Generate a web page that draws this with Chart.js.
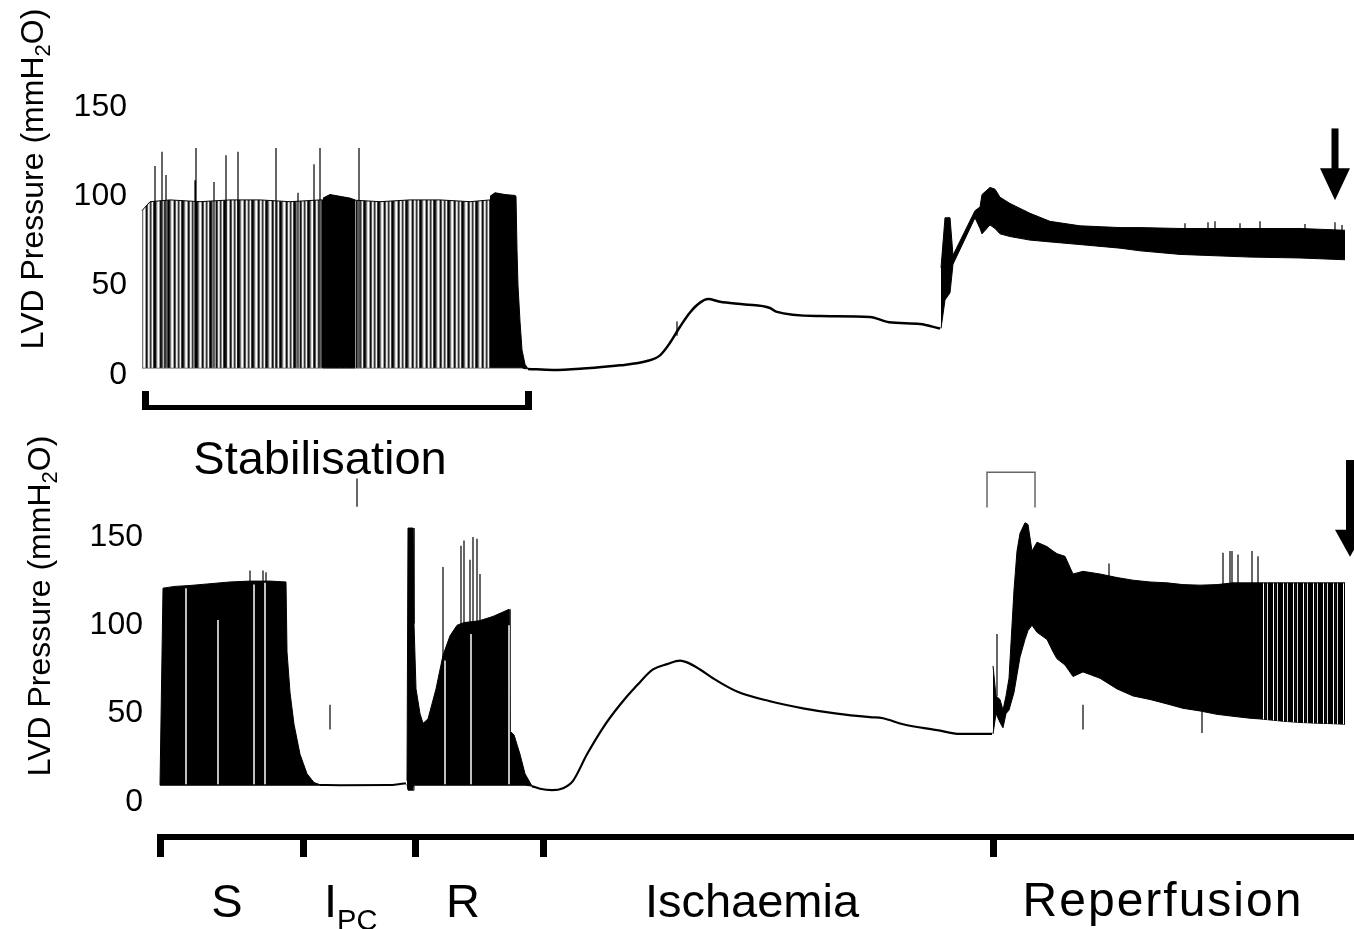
<!DOCTYPE html>
<html>
<head>
<meta charset="utf-8">
<script src="https://cdn.jsdelivr.net/npm/chart.js@4.4.0/dist/chart.umd.min.js"></script>
<style>
body{margin:0;background:#fff;width:1354px;height:929px;position:relative;overflow:hidden;font-family:"Liberation Sans",Arial,Helvetica,sans-serif;color:#000;}
canvas{position:absolute;left:0;}
#cTop{top:0;}
#cBot{top:440px;}
.lbl{position:absolute;white-space:nowrap;line-height:1;font-size:47px;transform:translate(-50%,-50%);}
.ytitle{position:absolute;white-space:nowrap;line-height:1;font-size:32px;transform:translate(-50%,-50%) rotate(-90deg);}
.ytitle sub{font-size:22px;line-height:0;vertical-align:-7px;}
.ipc sub{font-size:29px;line-height:0;vertical-align:-13px;}
</style>
</head>
<body>
<canvas id="cTop" width="1354" height="440"></canvas>
<canvas id="cBot" width="1354" height="489"></canvas>

<div class="ytitle" style="left:32px;top:179px">LVD Pressure (mmH<sub>2</sub>O)</div>
<div class="ytitle" style="left:39px;top:606px">LVD Pressure (mmH<sub>2</sub>O)</div>
<div class="lbl" style="left:320px;top:457px">Stabilisation</div>
<div class="lbl" style="left:227px;top:900px">S</div>
<div class="lbl ipc" style="left:324px;top:900px;transform:translate(0,-50%)">I<sub>PC</sub></div>
<div class="lbl" style="left:463px;top:900px">R</div>
<div class="lbl" style="left:752px;top:900px">Ischaemia</div>
<div class="lbl" style="left:1163px;top:900px;font-size:48px;letter-spacing:2px">Reperfusion</div>

<script>
// t = time (min), pressure in mmH2O
var yTicks=[0,50,100,150];
var tEnd=121.4;

// ---- control heart (top trace) ----
var topStabT =[0.2,1.0,3.0,6.0,9.0,12.0,15.0,18.0,21.0,24.0,27.0,30.0,33.0,35.0];
var topStabHi=[92,97,98,97,98,98,97,98,98,97,98,98,97,98];
var topStabLo=[4,4,4,4,4,4,4,4,4,4,4,4,4,4];

var topDarkAT =[18.3,19.0,20.0,21.0,21.5];
var topDarkAHi=[99,101,100,99,98];
var topDarkALo=[4,4,4,4,4];

var topDarkBT =[35.0,35.5,36.5,37.5,37.6,37.7,37.8,38.0,38.2,38.5,38.8];
var topDarkBHi=[100,102,101,100.5,100,70,50,30,14,6,3.5];
var topDarkBLo=[4,4,4,4,4,4,4,4,4,3.5,3.5];

var topIschT=[38.8,41.3,44.3,48.0,50.7,52.0,53.0,54.0,55.0,56.0,56.8,58.0,60.5,63.0,63.6,68.0,73.0,74.9,78.0,80.0];
var topIschP=[3.4,2.8,3.6,5.4,7.8,11,18,27,35,40.5,42.5,41,39.5,37.5,35.5,33,32.5,29.5,28.5,26];

var topRepT =[80.1,80.5,81.0,81.3,83.5,84.0,84.2,85.0,85.5,86.0,87.0,89.0,91.0,94.0,98.0,100.0,104.0,111.0,116.0,120.5];
var topRepHi=[60,88,88,67,92,94,101,105,104,99.5,96,90.5,86,83.5,82.5,82.5,82,82,82,81];
var topRepLo=[26,42,46,62,88,82,79,84,82,79,77.5,75.5,74.5,73,71,69.5,67.5,66,65.5,64.5];

var topSpikeT =[1.5,2.2,2.6,5.5,5.6,7.4,8.6,9.8,13.6,15.8,17.4,18.0,21.9,53.7,104.5,106.8,107.5,110.0,112.0,116.5,119.5,120.2];
var topSpikeLo=[4,4,4,4,4,4,4,4,4,4,4,4,4,22,70,70,70,70,70,70,70,70];
var topSpikeHi=[117,125,112,109,127,108,123,125,127,102,118,127,127,30,85,85.5,86,85,86,84.5,85.5,84];

var stabT=[0.5,38.8];
var topArrowT=119.5;
var topArrowP=[138,115.7,97.8];   // shaft top, head base, tip

// ---- preconditioned heart (bottom trace) ----
var botST =[2.0,2.3,3.5,5.0,7.0,9.0,11.0,13.0,14.6,14.7,15.0,15.4,16.0,16.7,17.4,18.0];
var botSHi=[9.5,121,122,122.5,123.5,124.5,125,125,124.5,85,62,44,27,16,11,9.8];
var botSLo=[9.5,9.5,9.5,9.5,9.5,9.5,9.5,9.5,9.5,9.5,9.5,9.5,9.5,9.5,9.5,9.5];

var botIpcT=[18.0,20.0,25.0,26.0,26.6];
var botIpcP=[9.6,9.5,9.6,10.2,10.5];

var botRT =[26.7,26.8,27.3,27.4,27.6,28.0,28.3,28.8,29.6,30.3,31.0,31.7,32.4,33.9,35.3,36.9,37.0,37.4,38.0,38.5,39.2];
var botRHi=[12,155,155,101,64,50,44.5,47,64,83,94,100,101.5,102.5,105,109,40,38,27,16,9];
var botRLo=[10,6.7,6.7,9.5,9.5,9.5,9.5,9.5,9.5,9.5,9.5,9.5,9.5,9.5,9.5,9.5,9.5,9.5,9.5,9.5,9];

var botIschT=[39.2,40.0,41.2,42.3,43.3,44.7,46.3,48.0,49.7,51.3,52.7,54.0,54.7,56.0,57.3,59.7,63.0,66.3,69.7,73.0,74.3,76.3,79.7,82.0,85.2];
var botIschP=[9,7.5,6.7,7.8,12,27,42,55,66,75,78,80,79,75,70,62.5,57,53,50,48,47.4,44,40.7,38.5,38.5];

var botRepT =[85.3,85.6,86.0,86.3,86.6,86.9,87.4,87.7,88.0,88.5,88.8,89.2,89.7,90.7,91.3,91.7,92.5,93.3,94.3,96.0,97.7,99.3,101.0,102.7,104.3,106.0,107.7,109.3,111.0,112.0];
var botRepHi=[77,60,58,52,60,70,120,142,152,158,157,142,147,144.5,142,140.5,139,129,130.5,129,127,125.5,124.5,124,123,122.7,123,124,124,124];
var botRepLo=[38.5,50,45,42,50,52,62,72,82,92,97,100,96,92,85,81,77.5,71,73.6,70,64,60,58,55.5,53,51.5,49.6,48.5,47.4,47];

var botTailT =[112.0,114.3,116.0,117.7,119.3,120.5];
var botTailHi=[124,124,124,124,124,124];
var botTailLo=[47,45.7,45,44.6,44.3,44];

var botSpikeT =[11.0,12.3,12.6,19.0,21.7,30.3,32.1,32.4,33.0,33.3,33.7,34.0,85.7,94.3,96.9,106.2,108.3,109.0,109.2,109.8,111.2,111.8];
var botSpikeLo=[10,10,10,41,167,10,10,10,10,10,10,10,60,41,70,39,70,70,70,70,70,70];
var botSpikeHi=[131,131,130,55,183,133,145,148,137,150,149,129,95,55,135,51,141,142,142,140,142,139];

// white gaps where the recording drops out
var botGapT =[4.6,7.8,11.4,12.5,30.5,33.1,36.9];
var botGapLo=[10,10,10,10,10,10,10];
var botGapHi=[121,103,123,124,80,95,100];

var botMarkT=[84.7,84.7,89.5,89.5];
var botMarkP=[166.6,186.6,186.6,166.6];

var phaseT=[2.0,16.3,27.5,40.3,85.3];
var timelineT=[1.7,tEnd];
var botArrowT=121.0;
var botArrowP=[193.5,154,138.7];

function pts(t,v){
  var out=[];
  for(var i=0;i<t.length;i++) out.push({x:t[i],y:v[i]});
  return out;
}
function segs(t,lo,hi){
  var out=[];
  for(var i=0;i<t.length;i++){
    out.push({x:t[i],y:lo[i]});
    out.push({x:t[i],y:hi[i]});
    out.push({x:t[i],y:null});
  }
  return out;
}
function stripes(cols){
  var c=document.createElement('canvas');
  c.width=cols.length;c.height=1;
  var g=c.getContext('2d');
  for(var i=0;i<cols.length;i++){g.fillStyle=cols[i];g.fillRect(i,0,1,1);}
  return g.createPattern(c,'repeat');
}
function band(t,hi,lo,fill,order){
  return [
    {data:pts(t,hi),borderColor:'#000',borderWidth:1,backgroundColor:fill,fill:'+1',tension:0,order:order},
    {data:pts(t,lo),borderColor:'#000',borderWidth:1,fill:false,tension:0,order:order}
  ];
}
function trace(t,p,w){
  return {data:pts(t,p),borderColor:'#000',borderWidth:w,fill:false,cubicInterpolationMode:'monotone',order:2};
}
function ticks(t,lo,hi,col,w){
  return {data:segs(t,lo,hi),borderColor:col,borderWidth:w,fill:false,spanGaps:false,tension:0,order:1};
}
function arrow(ctx,x,y0,y1,y2,shaft,half){
  ctx.fillStyle='#000';
  ctx.fillRect(x-shaft/2,y0,shaft,y1-y0+1);
  ctx.beginPath();
  ctx.moveTo(x-half,y1);ctx.lineTo(x+half,y1);ctx.lineTo(x,y2);ctx.closePath();
  ctx.fill();
}

var hatchTop=stripes(['#000','#222','#777','#d8d8d8','#fff','#999','#111','#555','#eee','#bbb','#333','#888','#f4f4f4','#444']);
var hatchBot=stripes(['#000','#000','#000','#fff','#000','#111','#000','#ddd','#000','#000']);

function panel(id,datasets,opt){
  return new Chart(document.getElementById(id),{
    type:'line',
    data:{datasets:datasets},
    options:{
      responsive:false,animation:false,devicePixelRatio:1,
      layout:{padding:{top:opt.padTop,bottom:opt.padBottom,left:0,right:0}},
      plugins:{legend:{display:false},tooltip:{enabled:false}},
      elements:{point:{radius:0,hoverRadius:0}},
      scales:{
        x:{type:'linear',display:false,min:opt.xMin,max:tEnd},
        y:{min:0,max:opt.yMax,
          grid:{display:false,drawTicks:false},border:{display:false},
          afterBuildTicks:function(s){s.ticks=yTicks.map(function(v){return {value:v};});},
          afterFit:function(s){s.width=opt.axisW;},
          ticks:{padding:opt.tickPad,color:'#000',font:{family:'"Liberation Sans", Arial, sans-serif',size:32}}}
      }
    },
    plugins:[{id:'decor',afterDraw:opt.decor}]
  });
}

panel('cTop',
  [].concat(
    band(topStabT,topStabHi,topStabLo,hatchTop,6),
    band(topDarkAT,topDarkAHi,topDarkALo,'#000',5),
    band(topDarkBT,topDarkBHi,topDarkBLo,'#000',5),
    band(topRepT,topRepHi,topRepLo,'#000',5),
    [trace(topIschT,topIschP,2.5),
     ticks(topSpikeT,topSpikeLo,topSpikeHi,'#000',1.2)]
  ),
  {padTop:107,padBottom:65,xMin:0,yMax:150,axisW:140,tickPad:13,
   decor:function(chart){
     var ctx=chart.ctx,xs=chart.scales.x,ys=chart.scales.y;
     var x1=xs.getPixelForValue(stabT[0]),x2=xs.getPixelForValue(stabT[1]);
     ctx.save();
     ctx.fillStyle='#000';
     ctx.fillRect(x1,405,x2-x1,5);
     ctx.fillRect(x1-3,391,7,19);
     ctx.fillRect(x2-3,391,7,19);
     arrow(ctx,xs.getPixelForValue(topArrowT),ys.getPixelForValue(topArrowP[0]),
       ys.getPixelForValue(topArrowP[1]),ys.getPixelForValue(topArrowP[2]),7,15);
     ctx.restore();
   }});

panel('cBot',
  [].concat(
    band(botST,botSHi,botSLo,'#000',5),
    band(botRT,botRHi,botRLo,'#000',5),
    band(botRepT,botRepHi,botRepLo,'#000',5),
    band(botTailT,botTailHi,botTailLo,hatchBot,5),
    [ticks(botGapT,botGapLo,botGapHi,'#fff',1.5),
     trace(botIpcT,botIpcP,2),
     trace(botIschT,botIschP,2.2),
     {data:pts(botMarkT,botMarkP),borderColor:'#666',borderWidth:1.5,fill:false,tension:0,order:1},
     ticks(botSpikeT,botSpikeLo,botSpikeHi,'#000',1.2)]
  ),
  {padTop:21,padBottom:127,xMin:1.0,yMax:190,axisW:150,tickPad:7,
   decor:function(chart){
     var ctx=chart.ctx,xs=chart.scales.x,ys=chart.scales.y;
     ctx.save();
     ctx.fillStyle='#000';
     var a=xs.getPixelForValue(timelineT[0]),b=xs.getPixelForValue(timelineT[1]);
     ctx.fillRect(a,394,b-a,6);
     for(var i=0;i<phaseT.length;i++){
       ctx.fillRect(xs.getPixelForValue(phaseT[i])-3,397,7,20);
     }
     arrow(ctx,xs.getPixelForValue(botArrowT),ys.getPixelForValue(botArrowP[0]),
       ys.getPixelForValue(botArrowP[1]),ys.getPixelForValue(botArrowP[2]),8,15);
     ctx.restore();
   }});
</script>
</body>
</html>
